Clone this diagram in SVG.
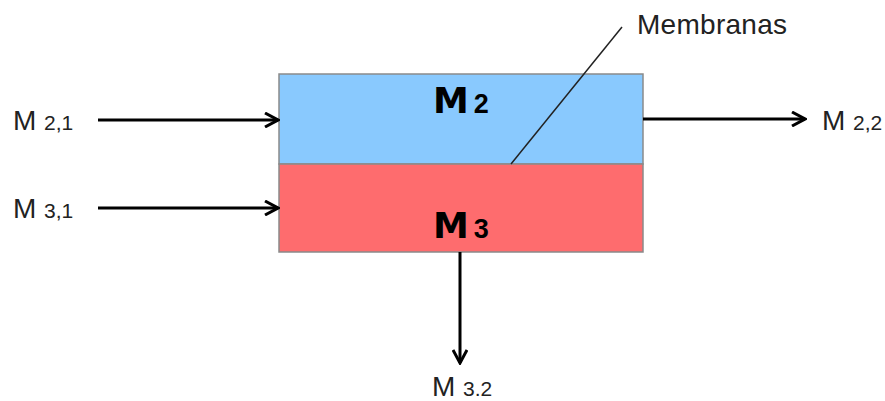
<svg xmlns="http://www.w3.org/2000/svg" width="885" height="401" viewBox="0 0 885 401">
  <style>
    .lbl { font-family: "Liberation Sans", Arial, sans-serif; font-size: 28px; fill: #222; }
    .sub { font-size: 21px; }
    .big { font-family: "DejaVu Sans", sans-serif; font-weight: bold; font-size: 36px; fill: #000; }
    .bigsub { font-family: "Liberation Sans", Arial, sans-serif; font-weight: bold; font-size: 27px; }
    .flow { stroke: #000; stroke-width: 3; fill: none; marker-end: url(#head); }
  </style>
  <defs>
    <marker id="head" viewBox="0 0 16 16" refX="14" refY="8" markerWidth="16" markerHeight="16" markerUnits="userSpaceOnUse" orient="auto">
      <polyline points="1,1 14,8 1,15" fill="none" stroke="#000" stroke-width="3"/>
    </marker>
  </defs>
  <rect width="885" height="401" fill="#fff"/>

  <!-- separator stack: upper phase and lower phase -->
  <g id="phase-m2">
    <rect x="279" y="74" width="364" height="90" fill="#89C9FE" stroke="#8a8a8a" stroke-width="1.5"/>
    <text class="big" x="433" y="113">M<tspan class="bigsub" dx="5">2</tspan></text>
  </g>
  <g id="phase-m3">
    <rect x="279" y="164" width="364" height="88" fill="#FE6C6E" stroke="#8a8a8a" stroke-width="1.5"/>
    <text class="big" x="433" y="238">M<tspan class="bigsub" dx="5">3</tspan></text>
  </g>

  <!-- membrane callout -->
  <g id="membranas">
    <line x1="511" y1="164" x2="622" y2="27" stroke="#222" stroke-width="1.5"/>
    <text class="lbl" x="637" y="34" textLength="150">Membranas</text>
  </g>

  <!-- stream labels -->
  <g id="m21"><text class="lbl" x="13" y="130">M <tspan class="sub">2,1</tspan></text></g>
  <g id="m31"><text class="lbl" x="13" y="218">M <tspan class="sub">3,1</tspan></text></g>
  <g id="m22"><text class="lbl" x="822" y="130">M <tspan class="sub">2,2</tspan></text></g>
  <g id="m32"><text class="lbl" x="432" y="396">M <tspan class="sub">3.2</tspan></text></g>

  <!-- flows -->
  <g id="connectors">
    <line class="flow" x1="98" y1="120" x2="278" y2="120"/>
    <line class="flow" x1="98" y1="208" x2="278" y2="208"/>
    <line class="flow" x1="643" y1="119" x2="805" y2="119"/>
    <line class="flow" x1="460" y1="252" x2="460" y2="363"/>
  </g>
</svg>
